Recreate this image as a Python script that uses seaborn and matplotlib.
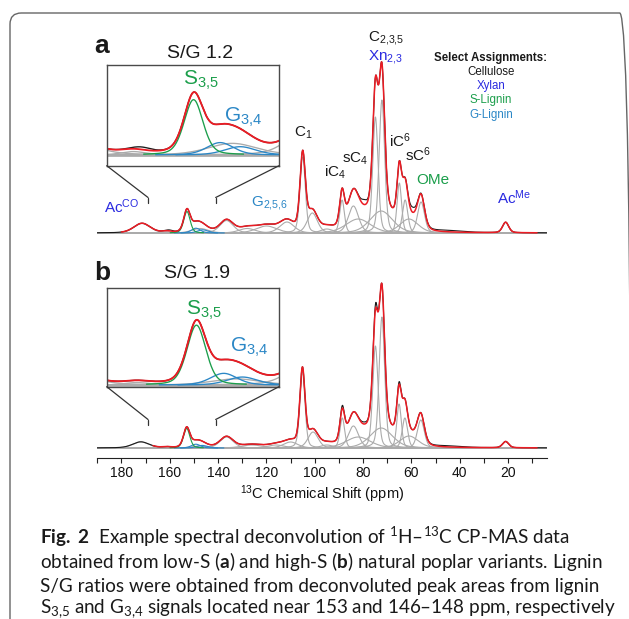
import numpy as np
import pandas as pd
import matplotlib
matplotlib.use('Agg')
import matplotlib.pyplot as plt
import seaborn as sns
from matplotlib.patches import FancyBboxPatch, ConnectionPatch
from matplotlib.ticker import MultipleLocator

# Style
sns.set_theme(style='white')
plt.rcParams['font.family'] = ['Liberation Sans', 'DejaVu Sans']
plt.rcParams['mathtext.fontset'] = 'custom'
plt.rcParams['mathtext.rm'] = 'Lato'
plt.rcParams['mathtext.it'] = 'Lato:italic'
plt.rcParams['mathtext.bf'] = 'Lato:bold'
plt.rcParams['mathtext.sf'] = 'Liberation Sans'

# ---- peaks: centre (ppm), height, fwhm (ppm) ----
# panel a, S/G 1.2
a_grey_ppm = [171.5, 161.3, 147.5, 136.5, 128.0, 120.0, 111.5, 105.0, 101.0, 95.0, 88.7, 84.0, 82.0,
              74.9, 72.2, 72.5, 65.0, 62.6, 61.0, 56.0, 21.0]
a_grey_height = [9.5, 1.3, 4.5, 12.5, 4.5, 7.0, 11.0, 76.0, 20.0, 4.0, 33.0, 27.0, 14.0,
                 116.0, 133.0, 22.0, 50.0, 33.0, 14.0, 31.0, 10.5]
a_grey_fwhm = [8.0, 4.0, 8.0, 6.5, 8.0, 10.0, 7.0, 2.6, 5.0, 6.0, 2.3, 5.0, 12.0,
               2.6, 2.7, 11.0, 2.2, 2.6, 9.0, 3.4, 3.0]
a_s_ppm, a_s_height, a_s_fwhm = [152.9], [21.5], [3.1]
a_g_ppm, a_g_height, a_g_fwhm = [149.2, 146.4], [4.8, 3.2], [4.4, 5.1]
# where the measured trace departs from the fit
a_res_ppm, a_res_height, a_res_fwhm = [79.5, 59.5, 45.0, 160.0], [5.0, 5.0, 1.5, 1.0], [3.0, 3.0, 14.0, 3.0]
a_fit_range = (180, 8)

# panel b, S/G 1.9
b_grey_ppm = [172.0, 161.3, 147.5, 136.5, 126.0, 116.0, 110.0, 105.1, 100.7, 95.0, 88.6, 84.0, 82.0,
              74.9, 72.2, 72.5, 65.1, 62.7, 61.0, 56.1, 21.0]
b_grey_height = [6.0, 0.8, 2.0, 11.0, 3.0, 3.0, 6.0, 76.0, 16.0, 3.0, 30.0, 22.0, 11.0,
                 102.0, 131.0, 20.0, 44.0, 30.0, 12.0, 28.0, 6.3]
b_grey_fwhm = [8.0, 4.0, 8.0, 6.5, 10.0, 8.0, 7.0, 2.5, 5.0, 6.0, 2.3, 5.0, 12.0,
               2.6, 2.7, 11.0, 2.2, 2.6, 9.0, 3.4, 3.0]
b_s_ppm, b_s_height, b_s_fwhm = [153.0], [19.5], [3.1]
b_g_ppm, b_g_height, b_g_fwhm = [149.2, 146.6], [3.8, 2.6], [4.4, 5.0]
b_res_ppm, b_res_height, b_res_fwhm = [74.8, 88.6, 65.1, 79.5, 45.0], [5.0, 2.7, 2.5, 2.0, 1.2], [1.2, 1.5, 1.5, 3.0, 14.0]
b_fit_range = (167, 8)

# tick labels / text
x_major = [180, 160, 140, 120, 100, 80, 60, 40, 20]
legend_title = 'Select Assignments:'
legend_items = ['Cellulose', 'Xylan', 'S-Lignin', 'G-Lignin']
caption_lines = [
    r'$\mathbf{Fig.\ 2}$  Example spectral deconvolution of $^{\mathrm{1}}$H–$^{\mathrm{13}}$C CP-MAS data',
    r'obtained from low-S ($\mathbf{a}$) and high-S ($\mathbf{b}$) natural poplar variants. Lignin',
    'S/G ratios were obtained from deconvoluted peak areas from lignin',
    r'S$_{\mathrm{3{,}5}}$ and G$_{\mathrm{3{,}4}}$ signals located near 153 and 146–148 ppm, respectively',
]

RED = '#ec1c24'
BLACK = '#1a1a1a'
GREY = '#ababab'
GREEN = '#1b9e4b'
GBLUE = '#2b87c6'
XBLUE = '#2a2ae0'

W, H = 629, 619
S_SPAN, G_SPAN = 7, 9   # how far the lignin components are drawn from their centre


def lineshape(ppm, centre, height, fwhm):
    d2 = ((ppm - centre) / fwhm) ** 2
    return height * (0.7 * np.exp(-4 * np.log(2) * d2) + 0.3 / (1 + 4 * d2))


def components(ppm, centres, heights, widths, tag):
    frames = []
    for i, (c, h, w) in enumerate(zip(centres, heights, widths)):
        frames.append(pd.DataFrame({'ppm': ppm, 'amp': lineshape(ppm, c, h, w),
                                    'dist': np.abs(ppm - c), 'comp': f'{tag}{i}'}))
    return pd.concat(frames, ignore_index=True)


def total(df):
    return df.groupby('comp', sort=False)['amp'].apply(np.array).sum()


def build_panel(ppm, grey, s, g, res, fit_range):
    grey_df = components(ppm, *grey, 'grey')
    s_df = components(ppm, *s, 's')
    g_df = components(ppm, *g, 'g')
    fit = total(grey_df) + total(s_df) + total(g_df)
    measured = fit + total(components(ppm, *res, 'r'))
    keep = (ppm <= fit_range[0]) & (ppm >= fit_range[1])
    fit_df = pd.DataFrame({'ppm': ppm[keep], 'amp': fit[keep]})
    data_df = pd.DataFrame({'ppm': ppm, 'amp': measured})
    return grey_df, s_df[s_df['dist'] <= S_SPAN], g_df[g_df['dist'] <= G_SPAN], fit_df, data_df


def draw_curves(ax, frames, lw_scale=1.0):
    grey_df, s_df, g_df, fit_df, data_df = frames
    kw = dict(x='ppm', y='amp', estimator=None, sort=False, legend=False, ax=ax)
    sns.lineplot(data=grey_df, units='comp', color=GREY, linewidth=0.8 * lw_scale, **kw)
    sns.lineplot(data=g_df, units='comp', color=GBLUE, linewidth=0.8 * lw_scale, **kw)
    sns.lineplot(data=s_df, units='comp', color=GREEN, linewidth=0.8 * lw_scale, **kw)
    sns.lineplot(data=data_df, color=BLACK, linewidth=0.8 * lw_scale, **kw)
    sns.lineplot(data=fit_df, color=RED, linewidth=1.1 * lw_scale, **kw)
    ax.set_xlabel('')
    ax.set_ylabel('')


def box(x0, y0, x1, y1):
    return [x0 / W, 1 - y1 / H, (x1 - x0) / W, (y1 - y0) / H]


def ftext(x, y, s, **kw):
    fig.text(x / W, 1 - y / H, s, **kw)


panels = {
    'a': ((a_grey_ppm, a_grey_height, a_grey_fwhm), (a_s_ppm, a_s_height, a_s_fwhm),
          (a_g_ppm, a_g_height, a_g_fwhm), (a_res_ppm, a_res_height, a_res_fwhm), a_fit_range),
    'b': ((b_grey_ppm, b_grey_height, b_grey_fwhm), (b_s_ppm, b_s_height, b_s_fwhm),
          (b_g_ppm, b_g_height, b_g_fwhm), (b_res_ppm, b_res_height, b_res_fwhm), b_fit_range),
}

fig = plt.figure(figsize=(W / 100, H / 100), dpi=100)

ppm_full = np.linspace(190, 4, 2000)
ppm_zoom = np.linspace(166, 140, 500)

ax_a = fig.add_axes(box(97.3, 20, 546.7, 243))
ax_b = fig.add_axes(box(97.3, 262, 546.7, 458))
in_a = fig.add_axes(box(106.7, 65, 279, 165.7))
in_b = fig.add_axes(box(106.7, 288.3, 279, 386.7))

layout = {
    'a': dict(ax=ax_a, inset=in_a, ylim=(-10, 213), in_xlim=(165, 141), in_ylim=(-4.2, 35.0), con=(35.5, 30)),
    'b': dict(ax=ax_b, inset=in_b, ylim=(-10, 186), in_xlim=(165.5, 141.5), in_ylim=(-0.55, 31.5), con=(28.5, 23.5)),
}

for key, spec in panels.items():
    lay = layout[key]
    ax, inset = lay['ax'], lay['inset']
    draw_curves(ax, build_panel(ppm_full, *spec))
    ax.set_xlim(190, 4)
    ax.set_ylim(*lay['ylim'])
    draw_curves(inset, build_panel(ppm_zoom, *spec), lw_scale=1.2)
    inset.set_xlim(*lay['in_xlim'])
    inset.set_ylim(*lay['in_ylim'])
    inset.set_xticks([])
    inset.set_yticks([])
    inset.set_facecolor('white')
    for sp in inset.spines.values():
        sp.set_color('#4a4a4a')
        sp.set_linewidth(1.0)
    y_top, y_bot = lay['con']
    for frac, end in [(0, 169), (1, 141)]:
        fig.add_artist(ConnectionPatch(xyA=(frac, 0), coordsA=inset.transAxes, xyB=(end, y_top),
                                       coordsB=ax.transData, color='#333333', lw=0.9))
        ax.plot([end, end], [y_top, y_bot], color='#333333', lw=0.9)

ax_a.axis('off')
sns.despine(ax=ax_b, left=True)
ax_b.set_yticks([])
ax_b.set_xticks(x_major)
ax_b.xaxis.set_minor_locator(MultipleLocator(10))
ax_b.tick_params(axis='x', which='both', direction='out', length=3.5, width=0.8,
                 color='#222222', labelsize=10, pad=2, labelcolor='#111111', bottom=True)
ax_b.spines['bottom'].set_color('#222222')
ax_b.spines['bottom'].set_linewidth(0.8)
ax_b.set_xlabel(r'$^{\mathsf{13}}$C Chemical Shift (ppm)', fontsize=10.5, labelpad=3, color='#111111')

# peak labels, panel a
lab = dict(ha='center', va='baseline', fontsize=11)
ax_a.text(70.6, 192, r'C$_{\mathsf{2{,}3{,}5}}$', color=BLACK, **lab)
ax_a.text(70.6, 173, r'Xn$_{\mathsf{2{,}3}}$', color=XBLUE, **lab)
ax_a.text(104.6, 96, r'C$_{\mathsf{1}}$', color=BLACK, **lab)
ax_a.text(91.7, 56, r'iC$_{\mathsf{4}}$', color=BLACK, **lab)
ax_a.text(83.3, 70, r'sC$_{\mathsf{4}}$', color=BLACK, **lab)
ax_a.text(64.8, 86, r'iC$^{\mathsf{6}}$', color=BLACK, **lab)
ax_a.text(57.2, 72, r'sC$^{\mathsf{6}}$', color=BLACK, **lab)
ax_a.text(51.0, 49, 'OMe', color=GREEN, **lab)
ax_a.text(17.5, 29, r'Ac$^{\mathsf{Me}}$', color=XBLUE, **lab)
ax_a.text(179.7, 20, r'Ac$^{\mathsf{CO}}$', color=XBLUE, **lab)
ax_a.text(118.5, 27, r'G$_{\mathsf{2{,}5{,}6}}$', color=GBLUE, **lab)

# legend block
ftext(491, 60.7, legend_title, ha='center', va='baseline', fontsize=8.3, fontweight='bold', color=BLACK)
for i, (item, col) in enumerate(zip(legend_items, [BLACK, XBLUE, GREEN, GBLUE])):
    ftext(491, 75 + 14.2 * i, item, ha='center', va='baseline', fontsize=8.3, color=col)

# panel letters, inset titles and inset labels
ftext(101.5, 53, 'a', ha='center', va='baseline', fontsize=19, fontweight='bold', color=BLACK)
ftext(102.5, 280, 'b', ha='center', va='baseline', fontsize=19, fontweight='bold', color=BLACK)
ftext(200, 58.3, 'S/G 1.2', ha='center', va='baseline', fontsize=14, color=BLACK)
ftext(197, 278.3, 'S/G 1.9', ha='center', va='baseline', fontsize=14, color=BLACK)
ftext(200.7, 85, r'S$_{\mathsf{3{,}5}}$', ha='center', va='baseline', fontsize=15, color=GREEN)
ftext(243, 121.7, r'G$_{\mathsf{3{,}4}}$', ha='center', va='baseline', fontsize=15, color=GBLUE)
ftext(204.3, 315, r'S$_{\mathsf{3{,}5}}$', ha='center', va='baseline', fontsize=15, color=GREEN)
ftext(249, 351.7, r'G$_{\mathsf{3{,}4}}$', ha='center', va='baseline', fontsize=15, color=GBLUE)

# caption
for i, (line, base) in enumerate(zip(caption_lines, [544, 568, 592, 613])):
    ftext(40, base, line, ha='left', va='baseline', fontsize=13.6,
          family=['Lato', 'DejaVu Sans'], color='#1a1a1a')

# rounded frame, open at the bottom and right
fig.add_artist(FancyBboxPatch((10 / W, 1 - 660 / H), 621 / W, 647 / H,
                              boxstyle='round,pad=0,rounding_size=0.018',
                              transform=fig.transFigure, fill=False, ec='#666666', lw=1.0))

fig.savefig('out.png', dpi=100)
